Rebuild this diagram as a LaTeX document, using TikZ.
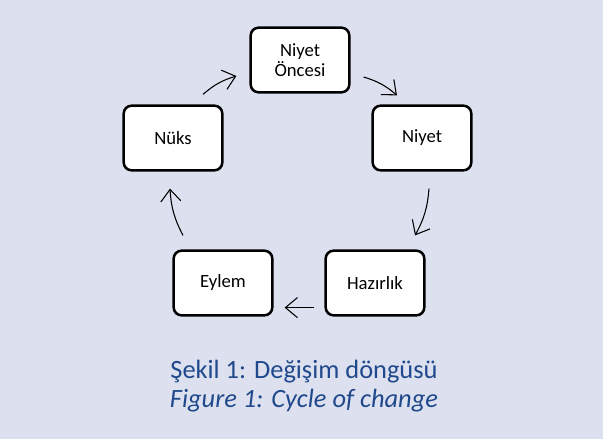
\documentclass[tikz,border=0pt]{standalone}
\usepackage{fontspec}
\setmainfont{Carlito}
\usepackage{tikz}
\usetikzlibrary{arrows.meta, calc, positioning}

\definecolor{bgblue}{RGB}{221,224,239}
\definecolor{capblue}{RGB}{31,73,140}

\begin{document}
\begin{tikzpicture}[x=0.75pt, y=-0.75pt, >={Straight Barb[length=9pt, width=15pt]},
    stage/.style={draw, line width=1.9pt, fill=white, rounded corners=6pt,
        minimum width=74pt, minimum height=48.5pt, align=center,
        font=\fontsize{14}{14.5}\selectfont},
    cycle/.style={->, line width=0.8pt},
    caption/.style={anchor=base, text=capblue, font=\fontsize{19.8}{21}\selectfont}]

    \fill[bgblue] (0,0) rectangle (603,439);
    \useasboundingbox (0,0) rectangle (603,439);

    \node[stage] (oncesi) at (300,60)  {Niyet\\Öncesi};
    \node[stage] (niyet) at (422,138) {Niyet};
    \node[stage] (nuks) at (173,138) {Nüks};
    \node[stage] (eylem) at (223,283) {Eylem};
    \node[stage] (hazirlik) at (375,283) {Hazırlık};

    \draw[cycle] ($(nuks.north)+(30,-10)$) to[bend left=12] ($(oncesi.west)+(-13,16)$);
    \draw[cycle] ($(oncesi.east)+(13,17)$) to[bend left=12] ($(niyet.north)+(-25,-9)$);
    \draw[cycle] ($(niyet.south)+(7,17)$) to[bend left=12] ($(hazirlik.north)+(40,-14)$);
    \draw[cycle] ($(hazirlik.south west)+(-10,-9)$) -- ($(eylem.south east)+(11,-9)$);
    \draw[cycle] ($(eylem.north)+(-40,-14)$) to[bend left=12] ($(nuks.south)+(-3,17)$);

    \node[caption] (cap-tr) at (304,378) {Şekil 1: Değişim döngüsü};
    \node[caption, font=\fontsize{19.8}{21}\selectfont\itshape] (cap-en) at (304,407) {Figure 1: Cycle of change};

\end{tikzpicture}
\end{document}
